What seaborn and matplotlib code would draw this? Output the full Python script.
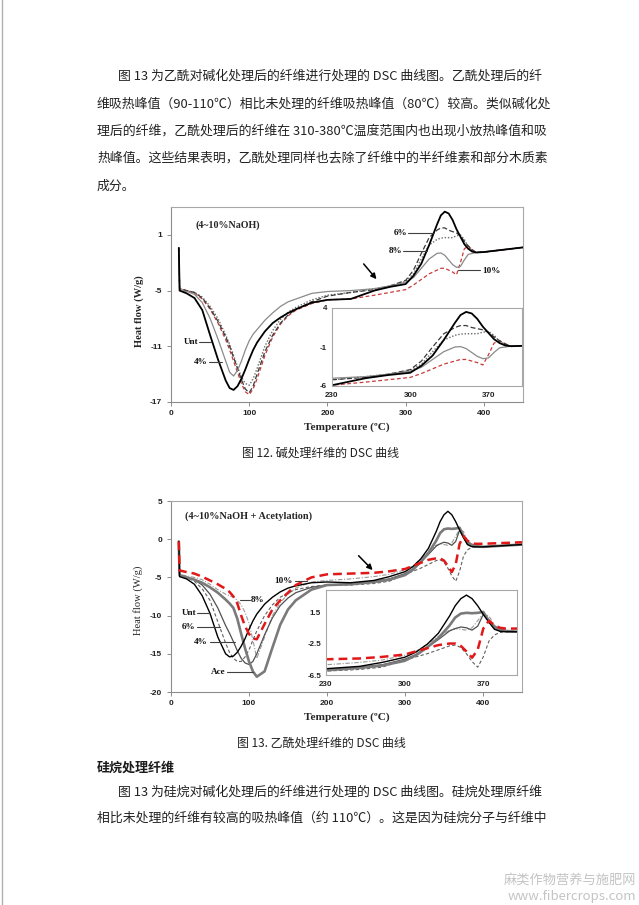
import matplotlib
matplotlib.use('Agg')
import matplotlib.pyplot as plt
import seaborn as sns
from matplotlib.lines import Line2D

sns.set_style('white')
plt.rcParams['font.family'] = ['Liberation Sans', 'DejaVu Sans']

W, H = 639, 905
CJK = ['Noto Sans CJK SC', 'DejaVu Sans']
SERIF = ['Liberation Serif', 'DejaVu Serif']

# ---------------- data ----------------
TEMP = [10, 11, 20, 30, 40, 50, 60, 70, 75, 80, 85, 90, 95, 100, 105, 110, 120, 130, 140, 150, 160, 180, 200,
        230, 260, 280, 300, 310, 320, 330, 340, 345, 350, 355, 360, 365, 370, 375, 380, 385, 390, 400, 450]

# Fig 12 (NaOH treated)
F12_UNT = [-0.4, -5.0, -5.3, -5.8, -7.1, -9.8, -12.4, -14.7, -15.5, -15.7, -15.3, -14.5, -13.5, -12.4, -11.4, -10.6,
           -9.4, -8.5, -7.9, -7.4, -7.0, -6.3, -6.0,
           -5.9, -5.0, -4.6, -4.3, -3.4, -2.1, -0.1, 2.1, 3.1, 3.5, 3.3, 2.6, 1.6, 0.8, 0.0, -0.5, -0.8, -0.9, -0.85, -0.35]
F12_4 = [-0.4, -5.0, -5.1, -5.4, -6.3, -8.0, -10.2, -12.6, -13.8, -14.2, -13.6, -12.6, -11.4, -10.4, -9.7, -9.2,
         -8.2, -7.4, -6.7, -6.2, -5.9, -5.3, -5.1,
         -5.0, -4.8, -4.5, -4.1, -3.6, -2.6, -1.6, -1.0, -0.95, -1.2, -1.7, -2.2, -2.5, -2.4, -1.7, -1.1, -1.0, -0.9, -0.85, -0.35]
F12_6 = [-0.4, -4.8, -5.0, -5.2, -5.8, -6.9, -8.3, -10.0, -11.0, -12.2, -13.4, -14.6, -15.6, -16.0, -15.3, -14.0,
         -11.6, -9.8, -8.5, -7.6, -7.0, -6.2, -5.6,
         -5.2, -4.9, -4.5, -3.9, -2.8, -1.0, 0.7, 1.5, 1.75, 1.75, 1.5, 1.35, 1.2, 0.9, 0.3, -0.2, -0.6, -0.9, -0.85, -0.35]
F12_8 = [-0.4, -4.8, -5.0, -5.2, -5.7, -6.7, -8.0, -9.8, -10.8, -12.0, -13.2, -14.3, -15.0, -15.2, -14.5, -13.4,
         -11.0, -9.3, -8.1, -7.3, -6.8, -6.0, -5.5,
         -5.2, -4.8, -4.5, -4.0, -3.2, -1.6, -0.1, 0.5, 0.65, 0.7, 0.7, 0.7, 0.9, 1.0, 0.5, -0.3, -0.7, -0.9, -0.85, -0.35]
F12_10 = [-0.4, -4.8, -5.0, -5.3, -5.9, -7.0, -8.5, -10.3, -11.4, -12.6, -13.8, -15.0, -15.9, -16.2, -15.6, -14.5,
          -12.0, -10.0, -8.6, -7.7, -7.1, -6.4, -6.0,
          -5.9, -5.5, -5.2, -4.9, -4.4, -3.8, -3.2, -2.8, -2.6, -2.6, -2.8, -3.0, -3.3, -2.0, -0.5, -0.2, -0.6, -0.9, -0.85, -0.35]

# Fig 13 (NaOH + acetylation)
F13_UNT = [-0.3, -4.9, -5.2, -5.9, -7.4, -9.7, -12.8, -15.0, -15.4, -15.3, -14.8, -14.0, -13.0, -11.8, -10.7, -9.8,
           -8.5, -7.6, -6.9, -6.4, -6.1, -5.7, -5.6,
           -5.7, -5.4, -4.9, -4.25, -3.6, -2.6, -1.2, 1.0, 2.3, 3.2, 3.65, 3.2, 2.3, 1.2, 0.2, -0.7, -0.95, -1.0, -1.0, -0.7]
F13_4 = [-0.3, -4.8, -5.0, -5.3, -6.0, -7.2, -9.0, -11.3, -12.3, -13.4, -14.6, -15.6, -16.2, -16.4, -16.0, -15.0,
         -12.5, -10.3, -8.7, -7.7, -7.0, -6.3, -6.0,
         -5.8, -5.5, -5.2, -4.5, -3.9, -3.0, -2.0, -0.9, -0.6, -0.4, -0.5, -0.8, -0.3, 1.2, 0.3, -0.6, -0.9, -1.0, -1.0, -0.7]
F13_6 = [-0.3, -4.8, -5.0, -5.5, -6.5, -8.0, -10.8, -13.6, -14.8, -15.6, -16.0, -16.0, -15.4, -14.5, -13.2, -12.0,
         -10.0, -8.6, -7.6, -7.0, -6.6, -6.2, -6.0,
         -6.0, -5.8, -5.5, -4.6, -4.2, -3.8, -3.3, -2.8, -2.7, -3.0, -3.8, -4.8, -5.5, -4.2, -2.2, -1.4, -1.1, -1.0, -1.0, -0.7]
F13_8 = [-0.3, -4.6, -4.8, -5.0, -5.3, -5.9, -6.6, -7.2, -7.4, -7.6, -8.0, -8.6, -9.6, -11.0, -13.2, -15.6,
         -12.8, -10.0, -8.3, -7.2, -6.4, -5.6, -5.4,
         -5.2, -4.9, -4.6, -4.0, -3.5, -2.6, -1.6, -0.8, -0.6, -0.7, -0.8, -0.5, 0.4, 1.3, 1.0, -0.2, -0.6, -0.9, -1.0, -0.7]
F13_10 = [-0.3, -4.1, -4.3, -4.5, -4.9, -5.4, -5.9, -6.5, -6.9, -7.5, -8.4, -10.0, -11.4, -12.4, -13.0, -13.1,
          -11.1, -9.2, -8.0, -7.0, -6.0, -5.0, -4.6,
          -4.5, -4.4, -4.2, -3.9, -3.5, -3.1, -2.7, -2.5, -2.5, -2.8, -3.5, -4.3, -3.3, -0.6, 0.4, -0.2, -0.5, -0.6, -0.6, -0.4]
F13_ACE = [-0.3, -4.7, -5.0, -5.3, -5.7, -6.3, -7.0, -7.9, -8.4, -9.0, -10.4, -12.4, -14.3, -16.0, -17.3, -18.0,
           -17.3, -14.2, -11.2, -9.2, -8.0, -6.6, -6.0,
           -5.9, -5.6, -5.3, -4.7, -4.0, -3.0, -1.8, -0.2, 0.8, 1.3, 1.4, 1.35, 1.4, 1.5, 0.4, -0.4, -0.7, -0.9, -1.0, -0.7]

F12_SERIES = [
    ('10%', F12_10, dict(color='#c83a3a', lw=0.9, ls=(0, (3, 2)))),
    ('8%', F12_8, dict(color='#6a6a6a', lw=1.0, ls=(0, (1, 1.3)))),
    ('6%', F12_6, dict(color='#3a3a3a', lw=0.9, ls=(0, (4, 2)))),
    ('4%', F12_4, dict(color='#8a8a8a', lw=0.9, ls='-')),
    ('Unt', F12_UNT, dict(color='#000000', lw=1.3, ls='-')),
]
F13_SERIES = [
    ('8%', F13_8, dict(color='#9a9a9a', lw=0.8, ls=(0, (4, 1.5, 1, 1.5)))),
    ('6%', F13_6, dict(color='#606060', lw=0.8, ls=(0, (3, 2)))),
    ('4%', F13_4, dict(color='#505050', lw=0.9, ls='-')),
    ('Ace', F13_ACE, dict(color='#7a7a7a', lw=1.9, ls='-')),
    ('Unt', F13_UNT, dict(color='#000000', lw=1.0, ls='-')),
    ('10%', F13_10, dict(color='#e01818', lw=1.8, ls=(0, (3.5, 2)))),
]

MAIN_XT = [0, 100, 200, 300, 400]
F12_YT = [-17, -11, -5, 1]
F13_YT = [-20, -15, -10, -5, 0, 5]
INSET_XT = [230, 300, 370]
F12_INSET_YT = [-6, -1, 4]
F13_INSET_YT = [-6.5, -2.5, 1.5]

# ---------------- helpers ----------------
fig = plt.figure(figsize=(W / 100, H / 100), dpi=100)
fig.patch.set_facecolor('white')


def px_rect(l, t, r, b):
    return [l / W, 1 - b / H, (r - l) / W, (b - t) / H]


def ftext(x, y, s, **kw):
    fig.text(x / W, 1 - y / H, s, **kw)


def fline(x0, x1, y, color='#404040', lw=0.8):
    fig.add_artist(Line2D([x0 / W, x1 / W], [1 - y / H, 1 - y / H], transform=fig.transFigure,
                          color=color, lw=lw))


def lbl(v):
    return f'{v:g}'


def style(ax, xlim, ylim, xt, yt, inset=False):
    ax.set_xlim(*xlim)
    ax.set_ylim(*ylim)
    ax.set_xticks(xt)
    ax.set_yticks(yt)
    ax.set_xticklabels([lbl(v) for v in xt])
    ax.set_yticklabels([lbl(v) for v in yt])
    ax.set_xlabel('')
    ax.set_ylabel('')
    for s in ax.spines.values():
        s.set_visible(True)
        s.set_color('#a8a8a8')
        s.set_linewidth(0.8)
    if inset:
        ax.tick_params(axis='both', length=0, labelsize=5.8, colors='#222222')
        ax.tick_params(axis='y', pad=3.5)
        ax.tick_params(axis='x', pad=4.5)
    else:
        ax.spines['left'].set_color('#8c8c8c')
        ax.spines['bottom'].set_color('#8c8c8c')
        ax.tick_params(axis='both', direction='out', length=3, width=0.7, color='#8c8c8c',
                       labelsize=6, labelcolor='#222222')
        ax.tick_params(axis='y', pad=3.5, left=True)
        ax.tick_params(axis='x', pad=2.5, bottom=True)
    for t in ax.get_xticklabels() + ax.get_yticklabels():
        t.set_fontweight('bold')


def draw(ax, series):
    for name, vals, st in series:
        sns.lineplot(x=TEMP, y=vals, ax=ax, color=st['color'], linewidth=st['lw'],
                     linestyle=st['ls'], sort=False, legend=False)


# ---------------- Fig 12 ----------------
ax1 = fig.add_axes(px_rect(171, 207, 523, 402))
draw(ax1, F12_SERIES)
style(ax1, (0, 450), (-17, 4), MAIN_XT, F12_YT)
ax1.annotate('', xy=(265, -4.0), xytext=(244, -1.9),
             arrowprops=dict(arrowstyle='-|>', color='black', lw=1.1, mutation_scale=8))

in1 = fig.add_axes(px_rect(332, 308, 522, 386))
in1.set_facecolor('white')
draw(in1, F12_SERIES)
style(in1, (230, 400), (-6, 4), INSET_XT, F12_INSET_YT, inset=True)

ftext(195, 225, '(4~10%NaOH)', fontsize=7.2, fontweight='bold', family=SERIF, va='center', ha='left')
ftext(139, 311, 'Heat flow (W/g)', fontsize=7.6, fontweight='bold', family=SERIF, rotation=90,
      va='center', ha='center')
ftext(347, 427, 'Temperature (ºC)', fontsize=8.2, fontweight='bold', family=SERIF, va='center', ha='center')

lab_kw = dict(fontsize=6.6, fontweight='bold', family=SERIF, va='center', color='#111111')
ftext(198, 342, 'Unt', ha='right', **lab_kw); fline(199, 211, 342)
ftext(208, 362, '4%', ha='right', **lab_kw); fline(209, 222, 362)
ftext(407, 233, '6%', ha='right', **lab_kw); fline(408, 433, 233)
ftext(402, 251, '8%', ha='right', **lab_kw); fline(403, 427, 251)
ftext(482, 271, '10%', ha='left', **lab_kw); fline(458, 480, 270)

# ---------------- Fig 13 ----------------
ax2 = fig.add_axes(px_rect(171, 501, 522, 692))
draw(ax2, F13_SERIES)
style(ax2, (0, 450), (-20, 5), MAIN_XT, F13_YT)
ax2.annotate('', xy=(261, -4.3), xytext=(238, -1.9),
             arrowprops=dict(arrowstyle='-|>', color='black', lw=1.1, mutation_scale=8))

in2 = fig.add_axes(px_rect(326, 590, 517, 675))
in2.set_facecolor('white')
draw(in2, F13_SERIES)
style(in2, (230, 400), (-6.5, 4.3), INSET_XT, F13_INSET_YT, inset=True)

ftext(185, 516, '(4~10%NaOH + Acetylation)', fontsize=7.4, fontweight='bold', family=SERIF,
      va='center', ha='left')
ftext(138, 600, 'Heat flow (W/g)', fontsize=7.6, family=SERIF, rotation=90, va='center', ha='center')
ftext(347, 717, 'Temperature (ºC)', fontsize=8.2, fontweight='bold', family=SERIF, va='center', ha='center')

ftext(293, 581, '10%', ha='right', **lab_kw); fline(295, 307, 581)
ftext(251, 600, '8%', ha='left', **lab_kw); fline(240, 250, 600)
ftext(196, 613, 'Unt', ha='right', **lab_kw); fline(197, 210, 613)
ftext(195, 627, '6%', ha='right', **lab_kw); fline(197, 220, 627)
ftext(208, 642, '4%', ha='right', **lab_kw); fline(210, 235, 642)
ftext(226, 672, 'Ace', ha='right', **lab_kw); fline(227, 253, 672)

# ---------------- page text ----------------
body = dict(fontsize=9.3, family=CJK, va='center', ha='left', color='#222222')
ftext(118, 76, '图 13 为乙酰对碱化处理后的纤维进行处理的 DSC 曲线图。乙酰处理后的纤', **body)
ftext(97, 104, '维吸热峰值（90-110℃）相比未处理的纤维吸热峰值（80℃）较高。类似碱化处', **body)
ftext(97, 131, '理后的纤维，乙酰处理后的纤维在 310-380℃温度范围内也出现小放热峰值和吸', **body)
ftext(97, 158, '热峰值。这些结果表明，乙酰处理同样也去除了纤维中的半纤维素和部分木质素', **body)
ftext(97, 186, '成分。', **body)

cap = dict(fontsize=8.6, family=CJK, va='center', ha='center', color='#222222')
ftext(321, 453, '图 12. 碱处理纤维的 DSC 曲线', **cap)
ftext(321, 743, '图 13. 乙酰处理纤维的 DSC 曲线', **cap)

ftext(97, 768, '硅烷处理纤维', fontsize=9.4, family=CJK, fontweight='bold', va='center', ha='left',
      color='#1a1a1a')
ftext(118, 792, '图 13 为硅烷对碱化处理后的纤维进行处理的 DSC 曲线图。硅烷处理原纤维', **body)
ftext(97, 818, '相比未处理的纤维有较高的吸热峰值（约 110℃）。这是因为硅烷分子与纤维中', **body)

wm = dict(fontsize=9.5, family=CJK, va='center', ha='right', color='#c4c4c4')
ftext(636, 880, '麻类作物营养与施肥网', **wm)
ftext(636, 896, 'www.fibercrops.com', **wm)

fig.add_artist(Line2D([1.5 / W, 1.5 / W], [0, 1], transform=fig.transFigure, color='#b0b0b0', lw=1.0))

fig.savefig('out.png', dpi=100, facecolor='white')
